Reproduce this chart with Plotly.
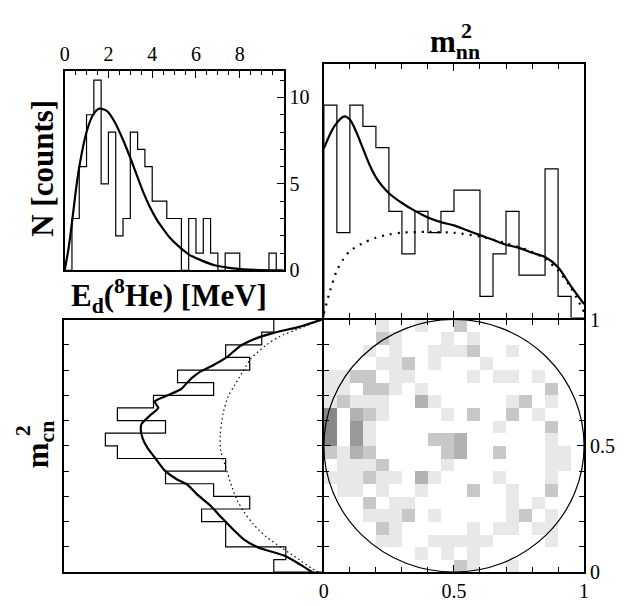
import numpy as np
import plotly.graph_objects as go

# The page body has an 8px margin; the figure is sized so it ends at the window edge.
OFF = 8
W, H = 624 - OFF, 606 - OFF
LW = 2  # frame line width

# ---------------- data ----------------
# E_d(8He) histogram: 30 bins of 1/3 MeV from 0 to 10 MeV
ed_edges = list(np.linspace(0, 10, 31))
ed_counts = [0, 3, 6, 9, 11, 5, 8, 2, 3, 8, 7, 6, 4, 4, 3, 3, 0, 3, 1, 3, 1, 0, 1, 1, 0, 0, 0, 0, 1, 0]
ed_fit_x = [0, 0.17, 0.33, 0.5, 0.67, 1.0, 1.3, 1.58, 1.95, 2.3, 2.7, 3.0, 3.3, 3.6, 3.9, 4.2,
            4.5, 4.8, 5.2, 5.7, 6.3, 6.9, 7.8, 8.7, 10.0]
ed_fit_y = [0, 1.2, 2.7, 4.5, 6.0, 8.0, 9.0, 9.35, 9.2, 8.55, 7.45, 6.5, 5.5, 4.5, 3.65, 2.95,
            2.4, 1.9, 1.4, 0.9, 0.55, 0.28, 0.1, 0.03, 0.0]

# m_nn^2 histogram: 20 bins 0..1
m_edges = list(np.linspace(0, 1, 21))
mnn_counts = [10, 4, 10, 9, 8, 5, 3, 5, 4, 5, 6, 6, 1, 3, 5, 2, 2, 7, 1, 0]
mnn_fit_x = [0, 0.04, 0.079, 0.1, 0.125, 0.15, 0.175, 0.2, 0.225, 0.25, 0.3, 0.35, 0.4, 0.45,
             0.5, 0.55, 0.6, 0.65, 0.7, 0.75, 0.8, 0.85, 0.9, 0.95, 1.0]
mnn_fit_y = [7.96, 9.0, 9.47, 9.32, 8.72, 7.96, 7.2, 6.6, 6.18, 5.85, 5.39, 5.02, 4.71, 4.49,
             4.34, 4.11, 3.88, 3.66, 3.43, 3.28, 3.05, 2.85, 2.37, 1.47, 0.63]
mnn_ps_x = [0, 0.025, 0.05, 0.075, 0.1, 0.15, 0.2, 0.25, 0.3, 0.4, 0.5, 0.6, 0.7, 0.8, 0.85,
            0.9, 0.95, 1.0]
mnn_ps_y = [0.2, 1.31, 2.22, 2.75, 3.13, 3.5, 3.76, 3.91, 4.0, 4.03, 3.99, 3.81, 3.5, 3.1, 2.75,
            2.22, 1.39, 0.26]

# m_cn^2 histogram (bins from 0 upward)
mcn_counts = [4, 3, 8, 8, 10, 6, 9, 13, 8, 17, 18, 13, 17, 14, 9, 12, 6, 8, 5, 4]
mcn_fit_m = [1.0, 0.971, 0.946, 0.921, 0.895, 0.851, 0.82, 0.794, 0.769, 0.75, 0.725, 0.70,
             0.675, 0.65, 0.624, 0.586, 0.561, 0.53, 0.492, 0.454, 0.404, 0.366, 0.347, 0.309,
             0.265, 0.214, 0.17, 0.13, 0.098, 0.063, 0.03, 0.0]
mcn_fit_n = [0, 1.9, 4.1, 5.7, 6.8, 7.9, 9.0, 10.1, 10.8, 11.2, 11.7, 12.8,
             13.9, 13.6, 14.2, 15.0, 15.05, 14.9, 14.5, 13.9, 13.1, 12.0, 11.2, 10.4,
             9.3, 8.3, 7.4, 6.5, 5.3, 3.0, 1.8, 0.8]
mcn_ps_m = [1.0, 0.958, 0.933, 0.90, 0.845, 0.80, 0.744, 0.694, 0.63, 0.542, 0.479, 0.416,
            0.34, 0.29, 0.24, 0.19, 0.139, 0.095, 0.05, 0.013, 0.0]
mcn_ps_n = [0, 2.2, 3.5, 4.6, 5.9, 6.5, 7.2, 7.8, 8.2, 8.45, 8.4, 8.0,
            7.5, 7.1, 6.5, 5.7, 4.6, 3.3, 1.9, 0.8, 0.3]

# Dalitz plot counts, rows listed from top (m_cn^2 = 0.95-1.0) to bottom
dalitz_rows_top_down = [
    [0,0,0,0,1,0,0,1,0,0,2,0,0,0,0,0,0,0,0,0],
    [0,0,0,0,2,1,0,0,0,1,0,1,0,0,0,0,0,0,0,0],
    [0,0,0,1,0,1,0,0,1,1,1,2,0,0,1,0,0,0,0,0],
    [0,0,0,0,1,1,2,0,1,0,0,0,1,0,0,0,0,0,0,0],
    [1,1,2,2,0,1,1,0,0,0,0,1,0,1,1,0,1,0,0,0],
    [1,1,0,2,2,1,0,1,0,0,0,0,0,0,0,0,0,2,0,0],
    [1,2,1,1,1,0,0,3,1,0,0,0,0,0,1,2,0,1,0,0],
    [5,0,3,2,1,0,0,0,0,1,0,2,0,0,2,0,1,0,0,0],
    [5,0,4,1,0,0,0,0,0,0,0,0,0,1,0,0,0,2,0,0],
    [5,0,4,1,0,0,0,0,2,2,3,0,0,0,0,0,0,1,0,0],
    [2,1,3,2,0,0,0,0,0,2,3,0,0,2,0,0,0,1,1,0],
    [0,1,1,1,2,0,0,0,0,1,0,0,0,0,0,0,0,1,1,0],
    [1,1,1,2,1,1,0,3,1,0,0,0,0,1,0,0,0,1,0,0],
    [0,1,1,0,1,0,0,1,0,0,0,2,0,0,1,0,0,2,0,0],
    [0,0,0,2,0,1,1,0,0,0,0,0,0,0,1,0,1,0,0,0],
    [0,0,0,1,1,1,2,0,1,0,0,0,0,0,1,2,0,1,0,0],
    [0,0,0,0,2,1,0,0,0,0,0,1,0,1,1,0,1,1,0,0],
    [0,0,0,0,1,1,0,0,1,1,1,1,1,0,0,0,0,1,0,0],
    [0,0,0,0,0,0,0,1,0,1,0,1,0,0,0,0,0,0,0,0],
    [0,0,0,0,0,0,0,0,0,0,2,1,0,0,1,0,0,0,0,0],
]

# ---------------- helpers ----------------
def hstep(edges, counts):
    xs = [edges[0]] + list(edges[:-1]) + [edges[-1]]
    ys = [0] + list(counts) + [0]
    return xs, ys

def px_x(p):
    return (p - OFF) / W

def px_y(p):
    return 1 - (p - OFF) / H

def dom_x(left, right):
    return [px_x(left + LW / 2), px_x(right - LW / 2)]

def dom_y(top, bottom):
    return [px_y(bottom - LW / 2), px_y(top + LW / 2)]

FONT = "Liberation Serif"
BLACK = "black"

fig = go.Figure()

# top-left: E_d histogram + fit
hx, hy = hstep(ed_edges, ed_counts)
fig.add_trace(go.Scatter(x=hx, y=hy, mode="lines", line=dict(color=BLACK, width=1.2, shape="hv"),
                         xaxis="x", yaxis="y", showlegend=False, hoverinfo="skip"))
fig.add_trace(go.Scatter(x=ed_fit_x, y=ed_fit_y, mode="lines",
                         line=dict(color=BLACK, width=2.2, shape="spline", smoothing=0.8),
                         xaxis="x", yaxis="y", showlegend=False, hoverinfo="skip"))

# top-right: m_nn^2
hx, hy = hstep(m_edges, mnn_counts)
fig.add_trace(go.Scatter(x=hx, y=hy, mode="lines", line=dict(color=BLACK, width=1.2, shape="hv"),
                         xaxis="x2", yaxis="y2", showlegend=False, hoverinfo="skip"))
fig.add_trace(go.Scatter(x=mnn_ps_x, y=mnn_ps_y, mode="lines",
                         line=dict(color=BLACK, width=2.2, dash="2px,6px", shape="spline", smoothing=0.8),
                         xaxis="x2", yaxis="y2", showlegend=False, hoverinfo="skip"))
fig.add_trace(go.Scatter(x=mnn_fit_x, y=mnn_fit_y, mode="lines",
                         line=dict(color=BLACK, width=2.2, shape="spline", smoothing=0.8),
                         xaxis="x2", yaxis="y2", showlegend=False, hoverinfo="skip"))

# bottom-left: m_cn^2 (rotated histogram)
vx = [0] + list(mcn_counts) + [0]
vy = [m_edges[0]] + list(m_edges[:-1]) + [m_edges[-1]]
fig.add_trace(go.Scatter(x=vx, y=vy, mode="lines", line=dict(color=BLACK, width=1.2, shape="vh"),
                         xaxis="x3", yaxis="y3", showlegend=False, hoverinfo="skip"))
fig.add_trace(go.Scatter(x=mcn_ps_n, y=mcn_ps_m, mode="lines",
                         line=dict(color=BLACK, width=1.2, dash="1.5px,3px", shape="spline", smoothing=0.8),
                         xaxis="x3", yaxis="y3", showlegend=False, hoverinfo="skip"))
fig.add_trace(go.Scatter(x=mcn_fit_n, y=mcn_fit_m, mode="lines",
                         line=dict(color=BLACK, width=2.2, shape="spline", smoothing=0.6),
                         xaxis="x3", yaxis="y3", showlegend=False, hoverinfo="skip"))

# bottom-right: Dalitz plot
z = [list(r) for r in dalitz_rows_top_down[::-1]]
z = [[(v if v > 0 else None) for v in r] for r in z]
centers = [(a + b) / 2 for a, b in zip(m_edges[:-1], m_edges[1:])]
cs = [[0.0, "#ffffff"], [0.1, "#ffffff"], [0.1, "#e8e8e8"], [0.3, "#e8e8e8"],
      [0.3, "#c8c8c8"], [0.5, "#c8c8c8"], [0.5, "#b2b2b2"], [0.7, "#b2b2b2"],
      [0.7, "#999999"], [0.9, "#999999"], [0.9, "#888888"], [1.0, "#888888"]]
fig.add_trace(go.Heatmap(x=centers, y=centers, z=z, zmin=0, zmax=5, colorscale=cs,
                         showscale=False, xaxis="x4", yaxis="y4", hoverinfo="skip", xgap=0, ygap=0))

fig.add_shape(type="circle", xref="x4", yref="y4", x0=0, y0=0, x1=1, y1=1,
              line=dict(color=BLACK, width=1.2), layer="above")

# ---------------- axes ----------------
tickfont = dict(family=FONT, size=20, color=BLACK)
common = dict(showgrid=False, zeroline=False, showline=True, linecolor=BLACK, linewidth=LW,
              tickcolor=BLACK, tickfont=tickfont, ticks="inside")
plain = dict(showgrid=False, zeroline=False, showline=True, linecolor=BLACK, linewidth=LW,
             ticks="", showticklabels=False)

ed_major = [0, 2, 4, 6, 8]
ed_minor = list(np.arange(0, 10.01, 0.5))
cnt_major = [0, 5, 10]
cnt_minor = list(range(0, 12))

fig.update_layout(
    width=W, height=H, margin=dict(l=0, r=0, t=0, b=0), autosize=False,
    paper_bgcolor="white", plot_bgcolor="white",
    xaxis=dict(**common, domain=dom_x(59.5, 284), range=[0, 10.0], side="top", anchor="y", mirror=True,
               tickvals=ed_major, ticklen=7, tickwidth=1.2,
               minor=dict(tickvals=ed_minor, ticklen=4, ticks="inside", tickcolor=BLACK, tickwidth=1)),
    yaxis=dict(**common, domain=dom_y(61.5, 270), range=[0, 11.5], side="right", anchor="x", mirror=True,
               tickvals=cnt_major, ticklen=7, tickwidth=1.2,
               minor=dict(tickvals=cnt_minor, ticklen=4, ticks="inside", tickcolor=BLACK, tickwidth=1)),
    xaxis2=dict(**common, domain=dom_x(323, 589.5), range=[0, 1], anchor="y2", mirror="ticks",
                showticklabels=False, dtick=0.5, tick0=0, ticklen=7, tickwidth=1.2,
                minor=dict(dtick=0.1, ticklen=5, ticks="inside", tickcolor=BLACK, tickwidth=1)),
    yaxis2=dict(**plain, domain=dom_y(53.3, 319), range=[0, 11.95], anchor="x2", mirror=True),
    xaxis3=dict(**plain, domain=dom_x(59.3, 323), range=[21.4, 0], anchor="y3", mirror=True),
    yaxis3=dict(**common, domain=dom_y(319, 583.3), range=[0, 1], anchor="x3", mirror="ticks",
                showticklabels=False, dtick=0.1, tick0=0, ticklen=5, tickwidth=1.2),
    xaxis4=dict(**common, domain=dom_x(323, 589.5), range=[0, 1], anchor="y4", mirror="ticks",
                tickvals=[0, 0.5, 1], ticktext=["0", "0.5", "1"], ticklen=7, tickwidth=1.2,
                minor=dict(dtick=0.1, tick0=0, ticklen=5, ticks="inside", tickcolor=BLACK, tickwidth=1)),
    yaxis4=dict(**common, domain=dom_y(319, 583.3), range=[0, 1], anchor="x4", side="right", mirror="ticks",
                tickvals=[0, 0.5, 1], ticktext=["0", "0.5", "1"], ticklen=7, tickwidth=1.2,
                minor=dict(dtick=0.1, tick0=0, ticklen=5, ticks="inside", tickcolor=BLACK, tickwidth=1)),
)

# ---------------- titles ----------------
tfont = dict(family=FONT, size=31, color=BLACK)
sfont = dict(family=FONT, size=22, color=BLACK)
ann = [
    dict(text="<b>N [counts]</b>", x=px_x(38), y=px_y(163), textangle=-90, font=tfont),
    dict(text="<b>E<sub>d</sub>(<sup>8</sup>He) [MeV]</b>", x=px_x(167), y=px_y(296), font=tfont),
    dict(text="<b>m<sub>nn</sub></b>", x=px_x(457.5), y=px_y(34), font=tfont),
    dict(text="<b>2</b>", x=px_x(469), y=px_y(20), font=sfont),
    dict(text="<b>m<sub>cn</sub></b>", x=px_x(35), y=px_y(450), textangle=-90, font=tfont),
    dict(text="<b>2</b>", x=px_x(17), y=px_y(435), textangle=-90, font=sfont),
]
for a in ann:
    a.update(xref="paper", yref="paper", showarrow=False, xanchor="center", yanchor="middle")
fig.update_layout(annotations=ann)

fig.write_html("out.html")
